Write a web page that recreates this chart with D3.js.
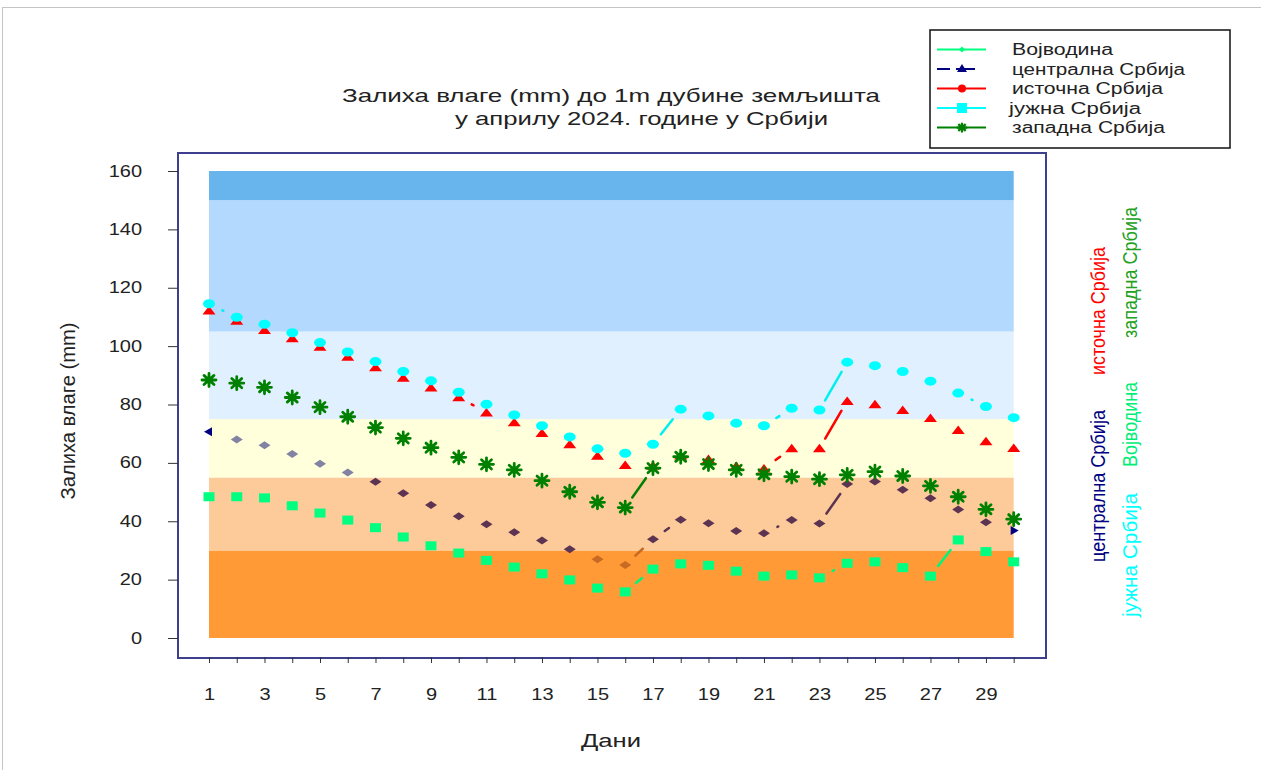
<!DOCTYPE html>
<html>
<head>
<meta charset="utf-8">
<script src="https://cdn.jsdelivr.net/npm/d3@7"></script>
<style>
  body { margin: 0; background: #fff; }
  svg { display: block; font-family: "Liberation Sans", Arial, sans-serif; }
</style>
</head>
<body>
<div id="chart"></div>
<script>
// dani u aprilu
var days = d3.range(1, 31);

// zaliha vlage po regionima (mm)
var vojvodina = [48.4, 48.4, 48.0, 45.3, 42.8, 40.4, 37.8, 34.6, 31.6, 29.1, 26.6, 24.3, 22.0, 19.9, 17.1,
                 15.8, 23.6, 25.4, 24.9, 22.9, 21.2, 21.6, 20.6, 25.6, 26.1, 24.1, 21.2, 33.6, 29.6, 26.1];
var centralna = [70.7, 68.0, 66.0, 63.0, 59.7, 56.7, 53.5, 49.6, 45.6, 41.7, 39.0, 36.2, 33.4, 30.4, 27.0,
                 25.0, 33.8, 40.5, 39.3, 36.7, 35.9, 40.4, 39.2, 52.8, 53.6, 50.8, 47.9, 44.0, 39.7, 36.8];
var istocna = [112.2, 108.7, 105.5, 102.7, 99.8, 96.4, 92.8, 89.2, 85.8, 82.5, 77.3, 73.9, 70.2, 66.4, 62.4,
               59.3, 59.0, 62.5, 61.3, 58.9, 58.1, 65.0, 65.0, 81.2, 80.1, 78.1, 75.4, 71.3, 67.4, 65.1];
var juzna = [114.5, 109.9, 107.5, 104.6, 101.2, 98.0, 94.7, 91.3, 88.1, 84.2, 80.1, 76.4, 72.7, 68.9, 64.8,
             63.3, 66.4, 78.4, 76.1, 73.6, 72.7, 78.7, 78.1, 94.5, 93.3, 91.3, 88.0, 83.9, 79.3, 75.5];
var zapadna = [88.4, 87.3, 85.9, 82.4, 79.1, 75.8, 72.1, 68.4, 65.2, 61.9, 59.5, 57.6, 53.9, 50.1, 46.5,
               44.7, 58.2, 62.1, 59.6, 57.6, 56.1, 55.3, 54.4, 55.9, 57.0, 55.5, 52.1, 48.4, 44.1, 40.7];

// pojasevi u pozadini (granice u mm)
var bandLimits = [0, 30, 55, 75, 105, 150, 160];
var bandColors = ["#ff9a36", "#fdca9a", "#ffffdc", "#e1f0ff", "#b3d9ff", "#68b4ec"];

var yTicks = d3.range(0, 161, 20);
var legendNames = ["Војводина", "централна Србија", "источна Србија", "јужна Србија", "западна Србија"];

var width = 1261, height = 770;

var svg = d3.select("#chart").append("svg")
  .attr("width", width)
  .attr("height", height);

// okvir slike
svg.append("rect")
  .attr("x", 2.5).attr("y", 7.5)
  .attr("width", width).attr("height", height)
  .attr("fill", "none").attr("stroke", "#c4c4c4");

var x = d3.scaleLinear().domain([1, 30]).range([209, 1013.7]);
var y = d3.scaleLinear().domain([0, 160]).range([638, 171]);

// okvir grafika
svg.append("rect")
  .attr("x", 178).attr("y", 153)
  .attr("width", 868).attr("height", 505)
  .attr("fill", "#fff")
  .attr("stroke", "#3f3f8f").attr("stroke-width", 2);

// pojasevi
svg.append("g").selectAll("rect")
  .data(bandColors)
  .join("rect")
  .attr("x", x(1))
  .attr("width", x(30) - x(1))
  .attr("y", function(d, i) { return y(bandLimits[i + 1]); })
  .attr("height", function(d, i) { return y(bandLimits[i]) - y(bandLimits[i + 1]); })
  .attr("fill", function(d) { return d; });

// y osa
var yAxis = svg.append("g")
  .attr("transform", "translate(178,0)")
  .call(d3.axisLeft(y).tickValues(yTicks).tickSize(10).tickPadding(26));
yAxis.select(".domain").remove();
yAxis.selectAll("line").attr("stroke", "#333");
yAxis.selectAll("text")
  .attr("font-size", 16)
  .attr("fill", "#222")
  .attr("font-family", "Liberation Sans, Arial, sans-serif")
  .attr("x", -36 / 1.25)
  .attr("transform", "scale(1.25,1)");

// x osa
var xAxis = svg.append("g")
  .attr("transform", "translate(0,657)")
  .call(d3.axisBottom(x).tickValues(days).tickSize(6).tickPadding(26)
    .tickFormat(function(d) { return d % 2 ? d : ""; }));
xAxis.select(".domain").remove();
xAxis.selectAll("line").attr("stroke", "#333");
xAxis.selectAll("text")
  .attr("font-size", 16)
  .attr("fill", "#222")
  .attr("font-family", "Liberation Sans, Arial, sans-serif")
  .attr("transform", "scale(1.25,1)");

// boja rombova za centralnu Srbiju zavisi od pojasa
function diamondColor(v) {
  if (v > 55) return "#8282a2";
  if (v >= 30) return "#5c3452";
  return "#c66a24";
}

// linije: vide se samo delovi strmijih odsecaka
function segments(vals, colorFn) {
  var g = svg.append("g");
  for (var i = 0; i < vals.length - 1; i++) {
    var x1 = x(days[i]), y1 = y(vals[i]), x2 = x(days[i + 1]), y2 = y(vals[i + 1]);
    var L = Math.hypot(x2 - x1, y2 - y1);
    var V = Math.max(0, (L - 30) * 1.3);
    if (V < 0.8) continue;
    var mx = (x1 + x2) / 2, my = (y1 + y2) / 2;
    var ux = (x2 - x1) / L, uy = (y2 - y1) / L;
    g.append("line")
      .attr("x1", mx - ux * V / 2).attr("y1", my - uy * V / 2)
      .attr("x2", mx + ux * V / 2).attr("y2", my + uy * V / 2)
      .attr("stroke", colorFn((vals[i] + vals[i + 1]) / 2))
      .attr("stroke-width", 2.5)
      .attr("stroke-linecap", "round");
  }
}

segments(vojvodina, function() { return "#00f57c"; });
segments(centralna, diamondColor);
segments(istocna, function() { return "#ff0000"; });
segments(juzna, function() { return "#00f0f0"; });
segments(zapadna, function() { return "#008000"; });

// Vojvodina - kvadrati
svg.append("g").selectAll("rect")
  .data(vojvodina)
  .join("rect")
  .attr("x", function(d, i) { return x(days[i]) - 5.5; })
  .attr("y", function(d) { return y(d) - 4.5; })
  .attr("width", 11).attr("height", 9)
  .attr("fill", "#00ff80");

// centralna Srbija - rombovi, krajevi kao strelice
svg.append("g").selectAll("path")
  .data(centralna)
  .join("path")
  .attr("transform", function(d, i) { return "translate(" + x(days[i]) + "," + y(d) + ")"; })
  .attr("d", function(d, i) {
    if (i === 0) return "M-5,0L3,-4.5L3,4.5Z";
    if (i === centralna.length - 1) return "M5,0L-3,-4.5L-3,4.5Z";
    return "M0,-4L6,0L0,4L-6,0Z";
  })
  .attr("fill", function(d, i) {
    return (i === 0 || i === centralna.length - 1) ? "#000080" : diamondColor(d);
  });

// istocna Srbija - trouglovi
svg.append("g").selectAll("path")
  .data(istocna)
  .join("path")
  .attr("transform", function(d, i) { return "translate(" + x(days[i]) + "," + y(d) + ")"; })
  .attr("d", "M0,-4.5L6.5,4L-6.5,4Z")
  .attr("fill", "#ff0000");

// juzna Srbija - krugovi
svg.append("g").selectAll("ellipse")
  .data(juzna)
  .join("ellipse")
  .attr("cx", function(d, i) { return x(days[i]); })
  .attr("cy", function(d) { return y(d); })
  .attr("rx", 6).attr("ry", 4.5)
  .attr("fill", "#00ffff");

// zapadna Srbija - zvezdice
var star = "M-7,0L7,0M0,-6.5L0,6.5M-5,-4.6L5,4.6M-5,4.6L5,-4.6";
svg.append("g").selectAll("path")
  .data(zapadna)
  .join("path")
  .attr("transform", function(d, i) { return "translate(" + x(days[i]) + "," + y(d) + ")"; })
  .attr("d", star)
  .attr("stroke", "#008000")
  .attr("stroke-width", 2.8)
  .attr("stroke-linecap", "round")
  .attr("fill", "none");

// naslov
svg.append("text")
  .attr("x", 342).attr("y", 102)
  .attr("font-size", 19).attr("fill", "#222")
  .attr("textLength", 538).attr("lengthAdjust", "spacingAndGlyphs")
  .text("Залиха влаге (mm) до 1m дубине земљишта");
svg.append("text")
  .attr("x", 455).attr("y", 125)
  .attr("font-size", 19).attr("fill", "#222")
  .attr("textLength", 373).attr("lengthAdjust", "spacingAndGlyphs")
  .text("у априлу 2024. године у Србији");

// naziv x ose
svg.append("text")
  .attr("x", 611).attr("y", 747)
  .attr("text-anchor", "middle")
  .attr("font-size", 18).attr("fill", "#222")
  .attr("textLength", 60).attr("lengthAdjust", "spacingAndGlyphs")
  .text("Дани");

// naziv y ose
svg.append("text")
  .attr("transform", "translate(68,411) rotate(-90) scale(1,1.2)")
  .attr("text-anchor", "middle")
  .attr("dy", "0.35em")
  .attr("font-size", 17).attr("fill", "#222")
  .attr("textLength", 177).attr("lengthAdjust", "spacingAndGlyphs")
  .text("Залиха влаге (mm)");

// legenda
var legend = svg.append("g");
legend.append("rect")
  .attr("x", 930).attr("y", 30)
  .attr("width", 300).attr("height", 118)
  .attr("fill", "#fff").attr("stroke", "#111").attr("stroke-width", 1.5);

var legendWidths = [101, 173, 151, 132, 153];
var legendColors = ["#00ff80", "#000080", "#ff0000", "#00ffff", "#008000"];
var ly = d3.scaleLinear().domain([0, 4]).range([49.5, 127.5]);

legendNames.forEach(function(name, i) {
  var yy = ly(i);
  var row = legend.append("g");
  if (i === 1) {
    row.append("line").attr("x1", 937).attr("x2", 950).attr("y1", yy).attr("y2", yy)
      .attr("stroke", legendColors[i]).attr("stroke-width", 2);
    row.append("line").attr("x1", 956).attr("x2", 975).attr("y1", yy).attr("y2", yy)
      .attr("stroke", legendColors[i]).attr("stroke-width", 2);
  } else {
    row.append("line").attr("x1", 937).attr("x2", 986).attr("y1", yy).attr("y2", yy)
      .attr("stroke", legendColors[i]).attr("stroke-width", 2);
  }
  var m = row.append("g").attr("transform", "translate(962," + yy + ")");
  if (i === 0) m.append("path").attr("d", "M0,-3L3,0L0,3L-3,0Z").attr("fill", legendColors[i]);
  if (i === 1) m.append("path").attr("d", "M0,-5L5,3L-5,3Z").attr("fill", legendColors[i]);
  if (i === 2) m.append("circle").attr("r", 4).attr("fill", legendColors[i]);
  if (i === 3) m.append("rect").attr("x", -5).attr("y", -5).attr("width", 10).attr("height", 10).attr("fill", legendColors[i]);
  if (i === 4) m.append("path").attr("d", star).attr("transform", "scale(0.75)")
    .attr("stroke", legendColors[i]).attr("stroke-width", 3).attr("fill", "none");
  row.append("text")
    .attr("x", i === 3 ? 1009 : 1012).attr("y", yy).attr("dy", "0.36em")
    .attr("font-size", 16).attr("fill", "#222")
    .attr("textLength", legendWidths[i]).attr("lengthAdjust", "spacingAndGlyphs")
    .text(name);
});

// vertikalni natpisi desno
var sideLabels = [
  { name: "централна Србија", color: "#000080", cx: 1098, y0: 562, len: 152 },
  { name: "источна Србија", color: "#ff0000", cx: 1098, y0: 375, len: 128 },
  { name: "јужна Србија", color: "#00ffff", cx: 1130, y0: 617, len: 124 },
  { name: "Војводина", color: "#00ee77", cx: 1130, y0: 467, len: 85 },
  { name: "западна Србија", color: "#22a022", cx: 1130, y0: 338, len: 131 }
];
svg.append("g").selectAll("text")
  .data(sideLabels)
  .join("text")
  .attr("transform", function(d) { return "translate(" + d.cx + "," + d.y0 + ") rotate(-90) scale(1,1.2)"; })
  .attr("dy", "0.35em")
  .attr("font-size", 17)
  .attr("fill", function(d) { return d.color; })
  .attr("textLength", function(d) { return d.len; })
  .attr("lengthAdjust", "spacingAndGlyphs")
  .text(function(d) { return d.name; });
</script>
</body>
</html>
